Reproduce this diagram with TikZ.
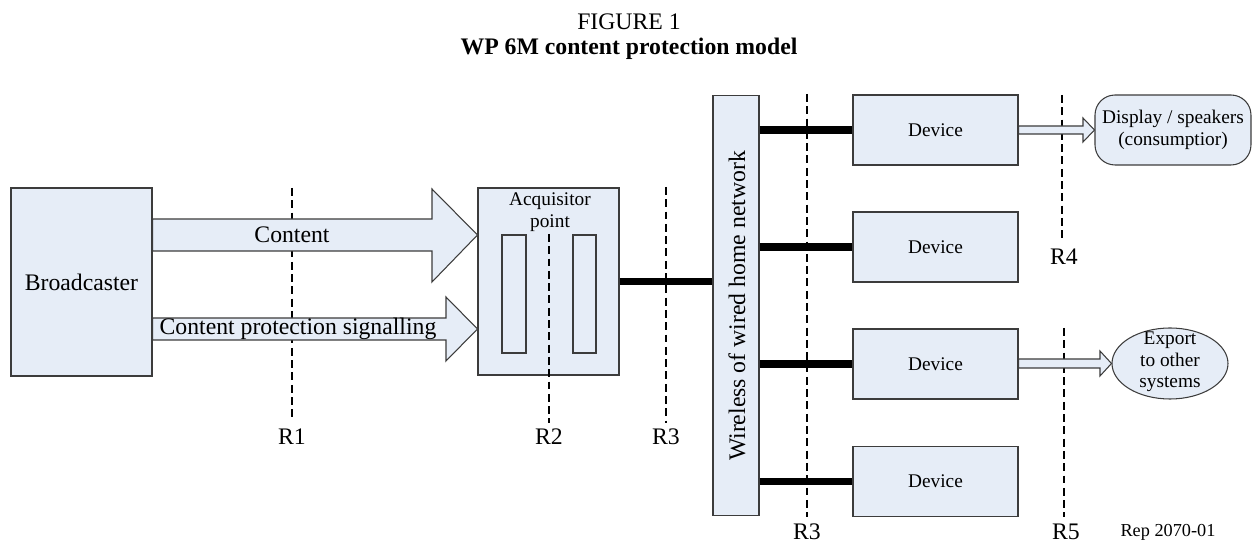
\documentclass[tikz,border=0pt]{standalone}
\usepackage{fontspec}
\setmainfont{Liberation Serif}
\usetikzlibrary{shapes.geometric}
\definecolor{boxfill}{RGB}{230,237,247}
\definecolor{boxline}{RGB}{60,60,60}
\tikzset{
	box/.style={rectangle, draw=boxline, fill=boxfill, line width=0.6pt, inner sep=0pt},
	blockarrow/.style={draw=boxline, fill=boxfill, line width=0.6pt, line join=miter},
	bus/.style={line width=4pt},
	refline/.style={line width=1.2pt, dash pattern=on 4.5pt off 2.5pt},
	big/.style={font=\fontsize{13.5}{16}\selectfont},
	small/.style={font=\fontsize{11}{12.2}\selectfont, align=center},
}
\begin{document}
\begin{tikzpicture}[x=0.02cm, y=-0.02cm]
	\useasboundingbox (0, 0) rectangle (1252, 543);
	\node[big] (fig) at (629, 22) {FIGURE 1};
	\node[big, font=\fontsize{13.5}{16}\selectfont\bfseries] (title) at (629, 49) {WP 6M content protection model};
	% blocks
	\node[box, big, minimum width=2.82cm, minimum height=3.76cm] (broad) at (81.5, 282) {Broadcaster};
	\node[box, minimum width=2.82cm, minimum height=3.74cm] (acq) at (548.5, 281.5) {};
	\node[small] (acqt) at (550, 212) {Acquisitor\\point};
	\node[box, minimum width=0.48cm, minimum height=2.36cm] (acqA) at (514, 294) {};
	\node[box, minimum width=0.46cm, minimum height=2.36cm] (acqB) at (584.5, 294) {};
	\node[box, minimum width=0.92cm, minimum height=8.42cm] (net) at (736, 305.5) {};
	\node[big, rotate=90] (nett) at (737, 306) {Wireless of wired home network};
	\node[box, small, minimum width=3.3cm, minimum height=1.4cm] (dev1) at (935.5, 130) {Device};
	\node[box, small, minimum width=3.3cm, minimum height=1.4cm] (dev2) at (935.5, 247) {Device};
	\node[box, small, minimum width=3.3cm, minimum height=1.4cm] (dev3) at (935.5, 364) {Device};
	\node[box, small, minimum width=3.3cm, minimum height=1.4cm] (dev4) at (935.5, 481.5) {Device};
	\node[box, small, rounded corners=0.4cm, minimum width=3.12cm, minimum height=1.4cm] (disp) at (1173, 130) {Display / speakers\\(consumptior)};
	\node[box, ellipse, minimum width=2.32cm, minimum height=1.42cm] (exp) at (1170, 363.5) {};
	\node[small] (expt) at (1170, 362) {Export\\to other\\systems};
	% reference points
	\node[big] (r1) at (292, 437) {R1};
	\node[big] (r2) at (549, 437) {R2};
	\node[big] (r3a) at (666, 437) {R3};
	\node[big] (r3b) at (807, 532) {R3};
	\node[big] (r4) at (1064, 257) {R4};
	\node[big] (r5) at (1066, 532) {R5};
	\node[font=\fontsize{10.4}{12}\selectfont] (rep) at (1168, 532) {Rep 2070-01};
	\coordinate (r1a) at (292, 188);
	\coordinate (r1b) at (292, 421);
	\coordinate (r2a) at (549, 234);
	\coordinate (r2b) at (549, 423);
	\coordinate (r3aa) at (666, 187);
	\coordinate (r3ab) at (666, 423);
	\coordinate (r3ba) at (807, 94);
	\coordinate (r3bb) at (807, 517);
	\coordinate (r4a) at (1062, 95);
	\coordinate (r4b) at (1062, 238);
	\coordinate (r5a) at (1064, 328);
	\coordinate (r5b) at (1064, 517);
	\draw[refline] (r1a) to (r1b);
	% flows
	\draw[blockarrow] (broad.east |- 0, 219) -- (432, 219) -- (432, 189) -- (acq.west |- 0, 235) -- (432, 282) -- (432, 251) -- (broad.east |- 0, 251) -- cycle;
	\draw[blockarrow] (broad.east |- 0, 318) -- (446, 318) -- (446, 297) -- (acq.west |- 0, 329) -- (446, 361) -- (446, 340) -- (broad.east |- 0, 340) -- cycle;
	\node[big] (cont) at (292, 235) {Content};
	\node[big] (sig) at (298, 329) {Content protection signalling};
	\draw[refline] (r4a) to (r4b);
	\draw[refline] (r5a) to (r5b);
	\draw[blockarrow] (dev1.east |- 0, 126) -- (1083, 126) -- (1083, 118) -- (disp.west) -- (1083, 142) -- (1083, 134) -- (dev1.east |- 0, 134) -- cycle;
	\draw[blockarrow] (dev3.east |- 0, 359) -- (1100, 359) -- (1100, 351) -- (exp.west) -- (1100, 376) -- (1100, 368) -- (dev3.east |- 0, 368) -- cycle;
	% network links
	\draw[bus] (acq.east) to (acq.east -| net.west);
	\draw[bus] (dev1.west -| net.east) to (dev1.west);
	\draw[bus] (dev2.west -| net.east) to (dev2.west);
	\draw[bus] (dev3.west -| net.east) to (dev3.west);
	\draw[bus] (dev4.west -| net.east) to (dev4.west);
	\draw[refline] (r2a) to (r2b);
	\draw[refline] (r3aa) to (r3ab);
	\draw[refline] (r3ba) to (r3bb);
\end{tikzpicture}
\end{document}
